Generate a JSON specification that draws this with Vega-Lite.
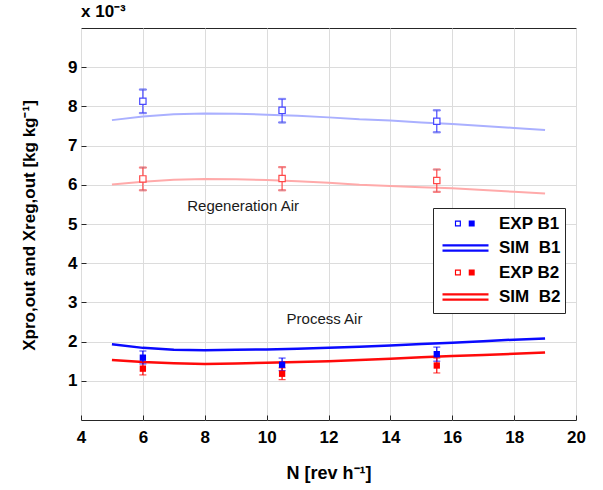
{
  "$schema": "https://vega.github.io/schema/vega-lite/v6.json",
  "width": 495,
  "height": 392,
  "autosize": {"type": "none"},
  "padding": {"left": 81, "top": 28, "right": 27, "bottom": 70},
  "background": "white",
  "title": {"text": "x 10⁻³", "anchor": "start", "frame": "group", "font": "Liberation Sans", "fontSize": 17, "fontWeight": "bold", "color": "black", "offset": 7},
  "datasets": {
    "sim": [
      {"series": "SIM B1", "air": "reg", "x": 5, "y": 7.65}, {"series": "SIM B1", "air": "reg", "x": 6, "y": 7.74}, {"series": "SIM B1", "air": "reg", "x": 7, "y": 7.8}, {"series": "SIM B1", "air": "reg", "x": 8, "y": 7.82}, {"series": "SIM B1", "air": "reg", "x": 9, "y": 7.81}, {"series": "SIM B1", "air": "reg", "x": 10, "y": 7.79}, {"series": "SIM B1", "air": "reg", "x": 11, "y": 7.76}, {"series": "SIM B1", "air": "reg", "x": 12, "y": 7.72}, {"series": "SIM B1", "air": "reg", "x": 13, "y": 7.67}, {"series": "SIM B1", "air": "reg", "x": 14, "y": 7.64}, {"series": "SIM B1", "air": "reg", "x": 15, "y": 7.59}, {"series": "SIM B1", "air": "reg", "x": 16, "y": 7.55}, {"series": "SIM B1", "air": "reg", "x": 17, "y": 7.5}, {"series": "SIM B1", "air": "reg", "x": 18, "y": 7.45}, {"series": "SIM B1", "air": "reg", "x": 19, "y": 7.4},
      {"series": "SIM B2", "air": "reg", "x": 5, "y": 6.01}, {"series": "SIM B2", "air": "reg", "x": 6, "y": 6.08}, {"series": "SIM B2", "air": "reg", "x": 7, "y": 6.13}, {"series": "SIM B2", "air": "reg", "x": 8, "y": 6.15}, {"series": "SIM B2", "air": "reg", "x": 9, "y": 6.14}, {"series": "SIM B2", "air": "reg", "x": 10, "y": 6.12}, {"series": "SIM B2", "air": "reg", "x": 11, "y": 6.09}, {"series": "SIM B2", "air": "reg", "x": 12, "y": 6.05}, {"series": "SIM B2", "air": "reg", "x": 13, "y": 6.0}, {"series": "SIM B2", "air": "reg", "x": 14, "y": 5.97}, {"series": "SIM B2", "air": "reg", "x": 15, "y": 5.94}, {"series": "SIM B2", "air": "reg", "x": 16, "y": 5.91}, {"series": "SIM B2", "air": "reg", "x": 17, "y": 5.87}, {"series": "SIM B2", "air": "reg", "x": 18, "y": 5.82}, {"series": "SIM B2", "air": "reg", "x": 19, "y": 5.78},
      {"series": "SIM B1", "air": "pro", "x": 5, "y": 1.93}, {"series": "SIM B1", "air": "pro", "x": 6, "y": 1.84}, {"series": "SIM B1", "air": "pro", "x": 7, "y": 1.79}, {"series": "SIM B1", "air": "pro", "x": 8, "y": 1.78}, {"series": "SIM B1", "air": "pro", "x": 9, "y": 1.79}, {"series": "SIM B1", "air": "pro", "x": 10, "y": 1.8}, {"series": "SIM B1", "air": "pro", "x": 11, "y": 1.82}, {"series": "SIM B1", "air": "pro", "x": 12, "y": 1.84}, {"series": "SIM B1", "air": "pro", "x": 13, "y": 1.87}, {"series": "SIM B1", "air": "pro", "x": 14, "y": 1.9}, {"series": "SIM B1", "air": "pro", "x": 15, "y": 1.94}, {"series": "SIM B1", "air": "pro", "x": 16, "y": 1.97}, {"series": "SIM B1", "air": "pro", "x": 17, "y": 2.01}, {"series": "SIM B1", "air": "pro", "x": 18, "y": 2.05}, {"series": "SIM B1", "air": "pro", "x": 19, "y": 2.08},
      {"series": "SIM B2", "air": "pro", "x": 5, "y": 1.53}, {"series": "SIM B2", "air": "pro", "x": 6, "y": 1.48}, {"series": "SIM B2", "air": "pro", "x": 7, "y": 1.45}, {"series": "SIM B2", "air": "pro", "x": 8, "y": 1.43}, {"series": "SIM B2", "air": "pro", "x": 9, "y": 1.44}, {"series": "SIM B2", "air": "pro", "x": 10, "y": 1.46}, {"series": "SIM B2", "air": "pro", "x": 11, "y": 1.48}, {"series": "SIM B2", "air": "pro", "x": 12, "y": 1.5}, {"series": "SIM B2", "air": "pro", "x": 13, "y": 1.53}, {"series": "SIM B2", "air": "pro", "x": 14, "y": 1.56}, {"series": "SIM B2", "air": "pro", "x": 15, "y": 1.6}, {"series": "SIM B2", "air": "pro", "x": 16, "y": 1.63}, {"series": "SIM B2", "air": "pro", "x": 17, "y": 1.66}, {"series": "SIM B2", "air": "pro", "x": 18, "y": 1.69}, {"series": "SIM B2", "air": "pro", "x": 19, "y": 1.72}
    ],
    "exp": [
      {"series": "EXP B1", "air": "reg", "x": 6, "y": 8.13, "lo": 7.83, "hi": 8.43},
      {"series": "EXP B1", "air": "reg", "x": 10.5, "y": 7.9, "lo": 7.59, "hi": 8.19},
      {"series": "EXP B1", "air": "reg", "x": 15.5, "y": 7.62, "lo": 7.34, "hi": 7.9},
      {"series": "EXP B2", "air": "reg", "x": 6, "y": 6.15, "lo": 5.86, "hi": 6.44},
      {"series": "EXP B2", "air": "reg", "x": 10.5, "y": 6.16, "lo": 5.86, "hi": 6.45},
      {"series": "EXP B2", "air": "reg", "x": 15.5, "y": 6.11, "lo": 5.82, "hi": 6.39},
      {"series": "EXP B1", "air": "pro", "x": 6, "y": 1.59, "lo": 1.43, "hi": 1.76},
      {"series": "EXP B1", "air": "pro", "x": 10.5, "y": 1.41, "lo": 1.26, "hi": 1.58},
      {"series": "EXP B1", "air": "pro", "x": 15.5, "y": 1.68, "lo": 1.5, "hi": 1.86},
      {"series": "EXP B2", "air": "pro", "x": 6, "y": 1.31, "lo": 1.15, "hi": 1.47},
      {"series": "EXP B2", "air": "pro", "x": 10.5, "y": 1.18, "lo": 1.03, "hi": 1.33},
      {"series": "EXP B2", "air": "pro", "x": 15.5, "y": 1.39, "lo": 1.2, "hi": 1.58}
    ],
    "notes": [
      {"label": "Regeneration Air", "x": 9.24, "y": 5.45},
      {"label": "Process Air", "x": 11.87, "y": 2.57}
    ]
  },
  "encoding": {
    "x": {"field": "x", "type": "quantitative", "scale": {"domain": [4, 20], "nice": false, "zero": false},
      "axis": {"title": "N [rev h⁻¹]", "values": [4, 6, 8, 10, 12, 14, 16, 18, 20], "format": "d", "grid": true, "gridColor": "#dcdcdc", "gridWidth": 1, "domain": false, "ticks": true, "tickSize": -5, "tickColor": "#262626", "labelPadding": 14, "labelFont": "Liberation Sans", "labelFontSize": 17, "labelFontWeight": "bold", "labelColor": "black", "labelFlush": false, "titleFont": "Liberation Sans", "titleFontSize": 18, "titleFontWeight": "bold", "titleColor": "black", "titleY": 58, "titleBaseline": "alphabetic"}},
    "y": {"field": "y", "type": "quantitative", "scale": {"domain": [0, 10], "nice": false, "zero": false},
      "axis": {"title": "Xpro,out and Xreg,out [kg kg⁻¹]", "values": [1, 2, 3, 4, 5, 6, 7, 8, 9], "format": "d", "grid": true, "gridColor": "#dcdcdc", "gridWidth": 1, "domain": false, "ticks": true, "tickSize": -5, "tickColor": "#262626", "labelPadding": 9, "labelFont": "Liberation Sans", "labelFontSize": 17, "labelFontWeight": "bold", "labelColor": "black", "titleFont": "Liberation Sans", "titleFontSize": 17, "titleFontWeight": "bold", "titleColor": "black", "titleX": -52, "titleY": 197, "titleBaseline": "middle", "titleAngle": -90}}
  },
  "layer": [
    {
      "data": {"name": "sim"},
      "transform": [{"filter": "datum.air === 'reg'"}],
      "mark": {"type": "line", "strokeWidth": 2},
      "encoding": {
        "stroke": {"field": "series", "type": "nominal",
          "scale": {"domain": ["EXP B1", "SIM B1", "EXP B2", "SIM B2"], "range": ["#4848ff", "#aab0ff", "#ff4848", "#ffaaaa"]}},
        "detail": {"field": "series"}
      }
    },
    {
      "data": {"name": "sim"},
      "transform": [{"filter": "datum.air === 'pro'"}],
      "mark": {"type": "line", "strokeWidth": 2.5},
      "encoding": {
        "color": {"field": "series", "type": "nominal",
          "scale": {"domain": ["EXP B1", "SIM B1", "EXP B2", "SIM B2"], "range": ["#0000ff", "#0a0aff", "#ff0000", "#ff0a0a"]},
          "legend": {"title": null, "orient": "none", "legendX": 352, "legendY": 180, "direction": "vertical", "padding": 4.5, "clipHeight": 22, "rowPadding": 2.5, "symbolSize": 2116, "symbolStrokeWidth": 0, "symbolOffset": 5, "labelOffset": 10.5, "labelFont": "Liberation Sans", "labelFontSize": 17, "labelFontWeight": "bold", "labelColor": "black", "fillColor": "white", "strokeColor": "#262626", "labelExpr": "datum.label === 'SIM B1' ? 'SIM\u00a0 B1' : datum.label === 'SIM B2' ? 'SIM\u00a0 B2' : datum.label",
            "encode": {"symbols": {"update": {
              "shape": {"signal": "indexof(datum.value, 'EXP') === 0 ? 'M-0.46,-0.13H-0.2V0.13H-0.46Z M-0.41,-0.08V0.08H-0.25V-0.08Z M0.14,-0.13H0.4V0.13H0.14Z' : 'M-1,-0.16H1V-0.07H-1Z M-1,0.07H1V0.16H-1Z'"},
              "fill": {"signal": "datum.value === 'EXP B1' ? {gradient: 'linear', x1: 0, y1: 0, x2: 1, y2: 0, stops: [{offset: 0, color: '#4848ff'}, {offset: 0.5, color: '#4848ff'}, {offset: 0.5, color: '#0000ff'}, {offset: 1, color: '#0000ff'}]} : datum.value === 'EXP B2' ? {gradient: 'linear', x1: 0, y1: 0, x2: 1, y2: 0, stops: [{offset: 0, color: '#ff4848'}, {offset: 0.5, color: '#ff4848'}, {offset: 0.5, color: '#ff0000'}, {offset: 1, color: '#ff0000'}]} : datum.value === 'SIM B1' ? {gradient: 'linear', x1: 0, y1: 0, x2: 0, y2: 1, stops: [{offset: 0, color: '#aab0ff'}, {offset: 0.5, color: '#aab0ff'}, {offset: 0.5, color: '#0a0aff'}, {offset: 1, color: '#0a0aff'}]} : {gradient: 'linear', x1: 0, y1: 0, x2: 0, y2: 1, stops: [{offset: 0, color: '#ffaaaa'}, {offset: 0.5, color: '#ffaaaa'}, {offset: 0.5, color: '#ff0a0a'}, {offset: 1, color: '#ff0a0a'}]}"},
              "stroke": {"value": "transparent"},
              "strokeWidth": {"value": 0},
              "opacity": {"value": 1}}}}}},
        "detail": {"field": "series"}
      }
    },
    {
      "data": {"name": "exp"},
      "transform": [{"filter": "datum.air === 'reg'"}],
      "mark": {"type": "rule", "strokeWidth": 1.2},
      "encoding": {"y": {"field": "lo", "type": "quantitative"}, "y2": {"field": "hi"}, "stroke": {"field": "series", "type": "nominal"}}
    },
    {
      "data": {"name": "exp"},
      "transform": [{"filter": "datum.air === 'reg'"}],
      "mark": {"type": "tick", "orient": "horizontal", "size": 7, "thickness": 1.2},
      "encoding": {"y": {"field": "lo", "type": "quantitative"}, "stroke": {"field": "series", "type": "nominal"}}
    },
    {
      "data": {"name": "exp"},
      "transform": [{"filter": "datum.air === 'reg'"}],
      "mark": {"type": "tick", "orient": "horizontal", "size": 7, "thickness": 1.2},
      "encoding": {"y": {"field": "hi", "type": "quantitative"}, "stroke": {"field": "series", "type": "nominal"}}
    },
    {
      "data": {"name": "exp"},
      "transform": [{"filter": "datum.air === 'reg'"}],
      "mark": {"type": "point", "shape": "square", "filled": false, "fill": "white", "fillOpacity": 1, "size": 40, "strokeWidth": 1.2, "opacity": 1},
      "encoding": {"stroke": {"field": "series", "type": "nominal"}}
    },
    {
      "data": {"name": "exp"},
      "transform": [{"filter": "datum.air === 'pro'"}],
      "mark": {"type": "rule", "strokeWidth": 1.2},
      "encoding": {"y": {"field": "lo", "type": "quantitative"}, "y2": {"field": "hi"}, "color": {"field": "series", "type": "nominal"}}
    },
    {
      "data": {"name": "exp"},
      "transform": [{"filter": "datum.air === 'pro'"}],
      "mark": {"type": "tick", "orient": "horizontal", "size": 7, "thickness": 1.2},
      "encoding": {"y": {"field": "lo", "type": "quantitative"}, "color": {"field": "series", "type": "nominal"}}
    },
    {
      "data": {"name": "exp"},
      "transform": [{"filter": "datum.air === 'pro'"}],
      "mark": {"type": "tick", "orient": "horizontal", "size": 7, "thickness": 1.2},
      "encoding": {"y": {"field": "hi", "type": "quantitative"}, "color": {"field": "series", "type": "nominal"}}
    },
    {
      "data": {"name": "exp"},
      "transform": [{"filter": "datum.air === 'pro'"}],
      "mark": {"type": "point", "shape": "square", "filled": true, "size": 40, "opacity": 1},
      "encoding": {"color": {"field": "series", "type": "nominal"}}
    },
    {
      "data": {"name": "notes"},
      "mark": {"type": "text", "font": "Liberation Sans", "fontSize": 15, "color": "#1a1a1a", "align": "center", "baseline": "middle"},
      "encoding": {"text": {"field": "label"}}
    }
  ],
  "config": {
    "view": {"stroke": "#262626", "strokeWidth": 1},
    "legend": {"symbolType": "square"}
  }
}
